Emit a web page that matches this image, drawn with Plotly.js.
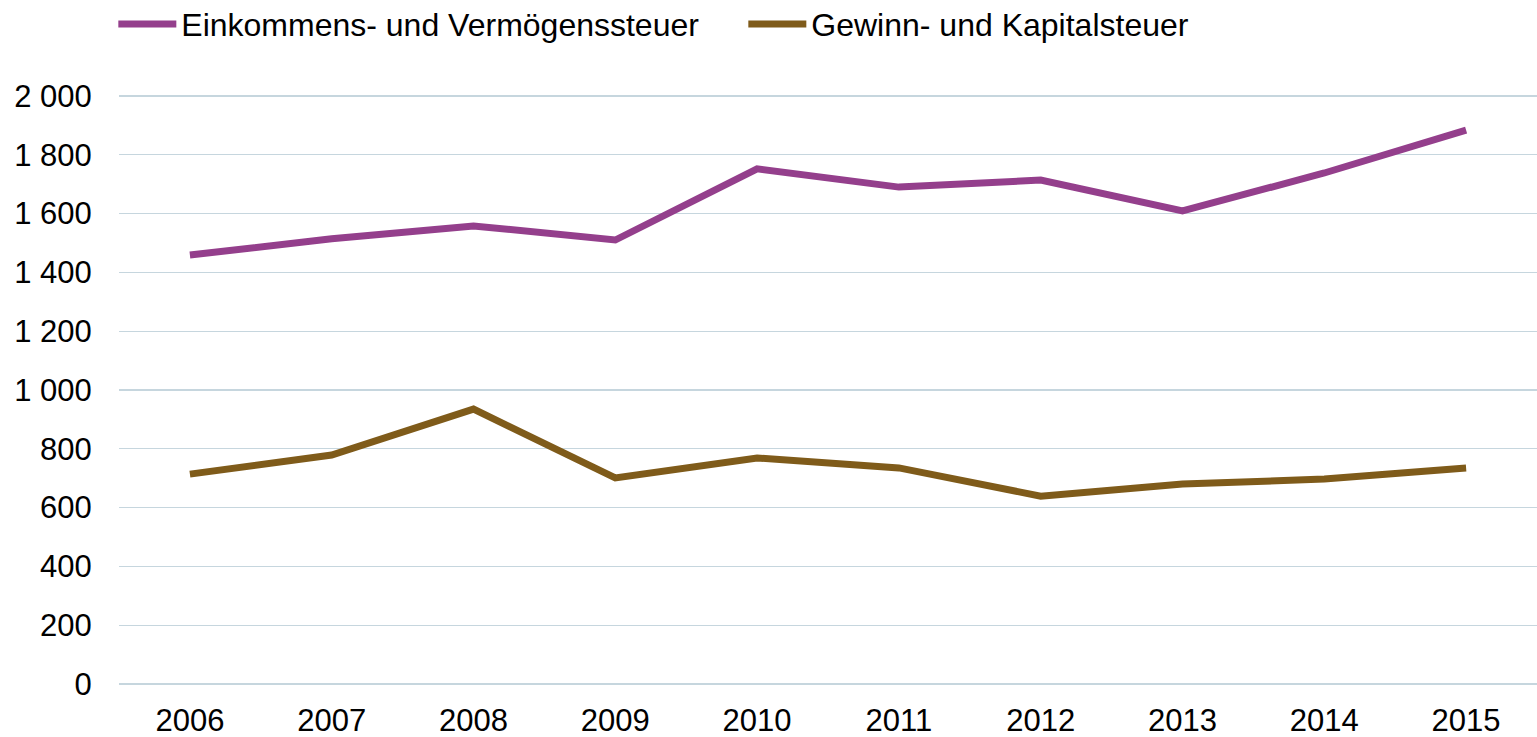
<!DOCTYPE html>
<html><head><meta charset="utf-8">
<script src="https://cdn.plot.ly/plotly-3.0.1.min.js"></script>
<style>html,body{margin:0;padding:0;background:#fff}#c{width:1537px;height:737px}</style>
</head><body><div id="c"></div>
<script>
const years = ['2006','2007','2008','2009','2010','2011','2012','2013','2014','2015'];
const einkommen = [1459, 1514, 1558, 1510, 1752, 1690, 1714, 1609, 1738, 1884];
const gewinn = [714, 779, 935, 701, 769, 735, 639, 680, 697, 735];
const seriesNames = ['Einkommens- und Vermögenssteuer', 'Gewinn- und Kapitalsteuer'];
const yTicks = [0, 200, 400, 600, 800, 1000, 1200, 1400, 1600, 1800, 2000];

const font = {family: 'Liberation Sans, Arial, sans-serif', size: 31, color: '#000'};
const legendFont = {family: 'Liberation Sans, Arial, sans-serif', size: 32, color: '#000'};
const traces = [
  {x: years, y: einkommen, name: seriesNames[0], type: 'scatter', mode: 'lines',
   line: {color: '#943f8c', width: 7}},
  {x: years, y: gewinn, name: seriesNames[1], type: 'scatter', mode: 'lines',
   line: {color: '#7f5b1a', width: 7}}
];
const layout = {
  width: 1537, height: 737,
  margin: {l: 119, r: 0, t: 93, b: 50, autoexpand: false},
  paper_bgcolor: '#fff', plot_bgcolor: '#fff',
  font: font,
  separators: ', ',
  showlegend: true,
  legend: {orientation: 'h', x: -0.004, xanchor: 'left', y: 1.116, yanchor: 'middle',
           font: legendFont, entrywidth: 557, entrywidthmode: 'pixels', itemwidth: 58,
           traceorder: 'normal'},
  xaxis: {type: 'category', showgrid: false, showline: false, zeroline: false, automargin: false,
          ticks: 'outside', ticklen: 6, tickcolor: 'rgba(0,0,0,0)', tickfont: font, range: [-0.5, 9.5]},
  yaxis: {range: [-10, 2010], tickvals: yTicks, tickformat: ',', separatethousands: true,
          automargin: false,
          showgrid: true, gridcolor: '#c6d6de', gridwidth: 1.3, zeroline: false,
          showline: false, ticks: 'outside', ticklen: 20, tickcolor: 'rgba(0,0,0,0)',
          tickfont: font}
};
Plotly.newPlot('c', traces, layout, {displayModeBar: false, staticPlot: true});
</script></body></html>
